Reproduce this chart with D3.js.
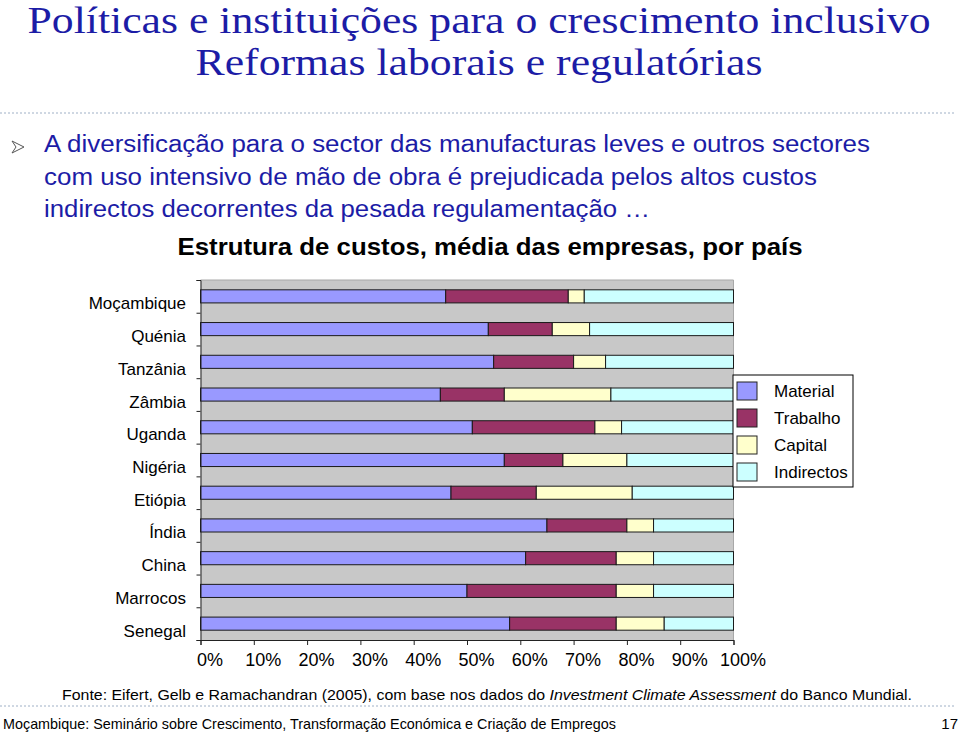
<!DOCTYPE html>
<html>
<head>
<meta charset="utf-8">
<script src="https://cdn.jsdelivr.net/npm/d3@7"></script>
<style>
  body { margin: 0; background: #fff; }
  svg { display: block; }
</style>
</head>
<body>
<svg id="chart" width="960" height="733"></svg>
<script>
// data (percent of total cost)
const countries = ["Moçambique", "Quénia", "Tanzânia", "Zâmbia", "Uganda", "Nigéria",
                   "Etiópia", "Índia", "China", "Marrocos", "Senegal"];
const material   = [46, 54, 55, 45, 51, 57, 47, 65, 61, 50, 58];
const trabalho   = [23, 12, 15, 12, 23, 11, 16, 15, 17, 28, 20];
const capital    = [ 3,  7,  6, 20,  5, 12, 18,  5,  7,  7,  9];
const indirectos = [28, 27, 24, 23, 21, 20, 19, 15, 15, 15, 13];
const seriesNames = ["Material", "Trabalho", "Capital", "Indirectos"];
const xTicks = [0, 10, 20, 30, 40, 50, 60, 70, 80, 90, 100];

const colors = ["#9999ff", "#993366", "#ffffcc", "#ccffff"];
const blue = "#1c1ca6";

const svg = d3.select("#chart");

// ---- slide header ----
svg.append("text")
  .attr("x", 479).attr("y", 33)
  .attr("text-anchor", "middle")
  .attr("font-family", "Liberation Serif, serif")
  .attr("font-size", 38)
  .attr("fill", blue)
  .attr("textLength", 903).attr("lengthAdjust", "spacingAndGlyphs")
  .text("Políticas e instituições para o crescimento inclusivo");

svg.append("text")
  .attr("x", 479).attr("y", 75)
  .attr("text-anchor", "middle")
  .attr("font-family", "Liberation Serif, serif")
  .attr("font-size", 38)
  .attr("fill", blue)
  .attr("textLength", 567).attr("lengthAdjust", "spacingAndGlyphs")
  .text("Reformas laborais e regulatórias");

function dotted(y) {
  svg.append("line")
    .attr("x1", 0).attr("x2", 956)
    .attr("y1", y).attr("y2", y)
    .attr("stroke", "#9fb0c6")
    .attr("stroke-width", 1)
    .attr("stroke-dasharray", "2,2");
}
dotted(113);
dotted(706);

// bullet arrowhead
svg.append("path")
  .attr("d", "M12,141 L24,147 L12,153 L16,147 Z")
  .attr("fill", "#fff")
  .attr("stroke", "#555")
  .attr("stroke-width", 1);

const bullet = [
  {t: "A diversificação para o sector das manufacturas leves e outros sectores", w: 826},
  {t: "com uso intensivo de mão de obra é prejudicada pelos altos custos", w: 773},
  {t: "indirectos decorrentes da pesada regulamentação …", w: 606}
];
svg.selectAll(".bl")
  .data(bullet)
  .enter().append("text")
  .attr("class", "bl")
  .attr("x", 44)
  .attr("y", (d, i) => 152 + i * 32.5)
  .attr("font-family", "Liberation Sans, Arial, sans-serif")
  .attr("font-size", 23)
  .attr("fill", blue)
  .attr("textLength", d => d.w).attr("lengthAdjust", "spacingAndGlyphs")
  .text(d => d.t);

// chart title
svg.append("text")
  .attr("x", 490).attr("y", 255)
  .attr("text-anchor", "middle")
  .attr("font-family", "Liberation Sans, Arial, sans-serif")
  .attr("font-size", 23)
  .attr("font-weight", "bold")
  .attr("fill", "#000")
  .attr("textLength", 625).attr("lengthAdjust", "spacingAndGlyphs")
  .text("Estrutura de custos, média das empresas, por país");

// ---- chart ----
const pLeft = 200.5, pRight = 733.5, pTop = 280, pBottom = 640;

const x = d3.scaleLinear().domain([0, 100]).range([pLeft, pRight]);
const y = d3.scaleBand().domain(countries).range([pTop, pBottom])
  .paddingInner(0.6).paddingOuter(0.3);

const table = countries.map((c, i) => ({
  country: c,
  Material: material[i], Trabalho: trabalho[i],
  Capital: capital[i], Indirectos: indirectos[i]
}));
const stacked = d3.stack().keys(seriesNames)(table);

svg.append("rect")
  .attr("x", pLeft).attr("y", pTop)
  .attr("width", pRight - pLeft).attr("height", pBottom - pTop)
  .attr("fill", "#c8c8c8");
svg.append("line")
  .attr("x1", pLeft).attr("x2", pRight).attr("y1", pTop).attr("y2", pTop)
  .attr("stroke", "#a8a8a8");
svg.append("line")
  .attr("x1", pRight).attr("x2", pRight).attr("y1", pTop).attr("y2", pBottom)
  .attr("stroke", "#a8a8a8");

svg.append("g")
  .selectAll("g")
  .data(stacked)
  .enter().append("g")
  .attr("fill", (d, i) => colors[i])
  .selectAll("rect")
  .data(d => d)
  .enter().append("rect")
  .attr("x", d => x(d[0]))
  .attr("y", d => y(d.data.country))
  .attr("width", d => x(d[1]) - x(d[0]))
  .attr("height", y.bandwidth())
  .attr("stroke", "#1a1a1a")
  .attr("stroke-width", 1);

// bottom axis
const xAxis = svg.append("g")
  .attr("transform", `translate(0,${pBottom})`)
  .call(d3.axisBottom(x).tickValues(xTicks).tickSize(5).tickFormat(d => d + "%"));
xAxis.select(".domain").attr("stroke", "#222");
xAxis.selectAll("line").attr("stroke", "#222");
xAxis.selectAll("text")
  .attr("font-family", "Liberation Sans, Arial, sans-serif")
  .attr("font-size", 18)
  .attr("fill", "#000")
  .attr("y", 13)
  .attr("dx", 9);

// left axis: ticks on the category boundaries
const yb = d3.scaleLinear().domain([0, countries.length]).range([pTop, pBottom]);
const yAxis = svg.append("g")
  .attr("transform", `translate(${pLeft},0)`)
  .call(d3.axisLeft(yb).tickValues(d3.range(countries.length + 1)).tickSize(4).tickFormat(""));
yAxis.select(".domain").attr("stroke", "#222");
yAxis.selectAll("line").attr("stroke", "#222");

svg.append("g")
  .selectAll("text")
  .data(countries)
  .enter().append("text")
  .attr("x", 186)
  .attr("y", d => y(d) + y.bandwidth() / 2 + 13)
  .attr("text-anchor", "end")
  .attr("font-family", "Liberation Sans, Arial, sans-serif")
  .attr("font-size", 17)
  .attr("fill", "#000")
  .text(d => d);

// legend
const lg = svg.append("g").attr("transform", "translate(733,375)");
lg.append("rect")
  .attr("width", 120).attr("height", 112)
  .attr("fill", "#fff").attr("stroke", "#000");
const li = lg.selectAll(".li")
  .data(seriesNames)
  .enter().append("g")
  .attr("transform", (d, i) => `translate(4,${7 + i * 27})`);
li.append("rect")
  .attr("width", 20).attr("height", 18)
  .attr("fill", (d, i) => colors[i])
  .attr("stroke", "#222");
li.append("text")
  .attr("x", 37).attr("y", 15)
  .attr("font-family", "Liberation Sans, Arial, sans-serif")
  .attr("font-size", 17)
  .attr("fill", "#000")
  .text(d => d);

// ---- footer ----
const src = svg.append("text")
  .attr("x", 487).attr("y", 700)
  .attr("text-anchor", "middle")
  .attr("font-family", "Liberation Sans, Arial, sans-serif")
  .attr("font-size", 15)
  .attr("fill", "#000")
  .attr("textLength", 850).attr("lengthAdjust", "spacingAndGlyphs");
src.append("tspan").text("Fonte: Eifert, Gelb e Ramachandran (2005), com base nos dados do ");
src.append("tspan").attr("font-style", "italic").text("Investment Climate Assessment");
src.append("tspan").text(" do Banco Mundial.");

svg.append("text")
  .attr("x", 3).attr("y", 729)
  .attr("font-family", "Liberation Sans, Arial, sans-serif")
  .attr("font-size", 15)
  .attr("fill", "#000")
  .attr("textLength", 613).attr("lengthAdjust", "spacingAndGlyphs")
  .text("Moçambique: Seminário sobre Crescimento, Transformação Económica e Criação de Empregos");

svg.append("text")
  .attr("x", 958).attr("y", 729)
  .attr("text-anchor", "end")
  .attr("font-family", "Liberation Sans, Arial, sans-serif")
  .attr("font-size", 15)
  .attr("fill", "#000")
  .text("17");
</script>
</body>
</html>
